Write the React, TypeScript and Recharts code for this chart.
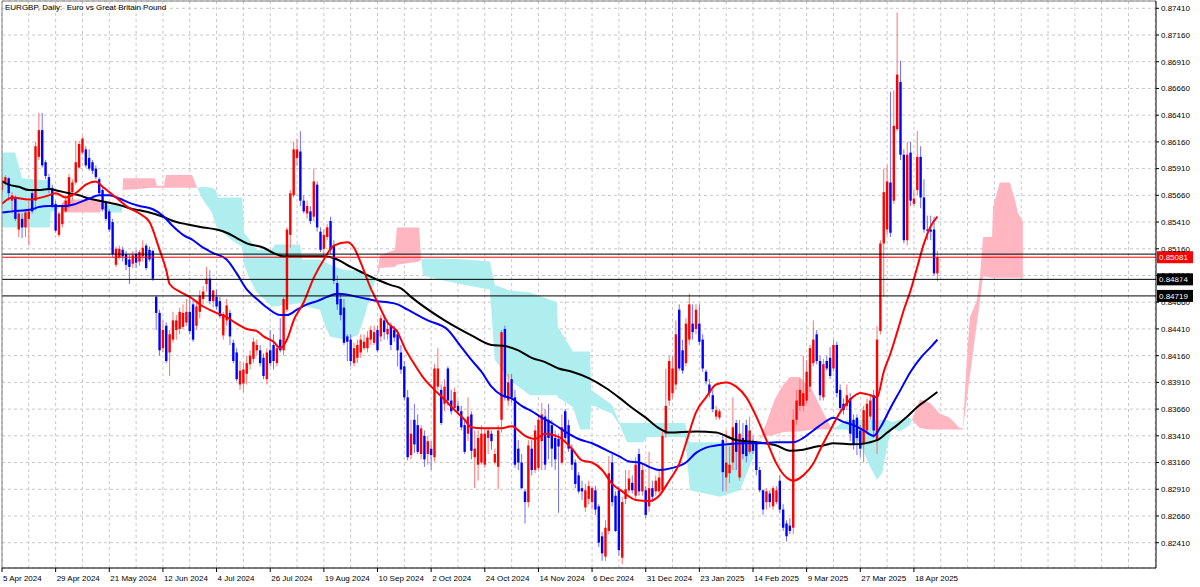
import React from "react";
import { ComposedChart, Bar, Line, Area, XAxis, YAxis, CartesianGrid, ReferenceLine } from "recharts";

const FONT = "'Liberation Sans', Arial, sans-serif";
const W = 1200;
const H = 587;
const Y_MIN = 0.821733;
const Y_MAX = 0.874783;
const X_MAX = 344.2;
const P = 10000; // all prices below are written in units of 0.0001

// daily candles [open, high, low, close]
const barsAprMay = [
  [8571,8583,8569,8580],[8578,8585,8575,8583],[8582,8583,8561,8568],[8561,8569,8549,8566],[8564,8566,8542,8544],
  [8534,8551,8527,8549],[8544,8549,8526,8536],[8536,8552,8527,8550],[8544,8561,8519,8551],[8568,8571,8549,8551],
  [8561,8616,8552,8612],[8602,8643,8599,8627],[8627,8643,8592,8594],[8597,8599,8581,8584],[8583,8586,8568,8571],
  [8573,8576,8554,8556],[8558,8561,8531,8533],[8529,8551,8527,8549],[8539,8559,8536,8556],[8551,8566,8550,8561],
  [8556,8586,8554,8583],[8569,8581,8561,8578],[8578,8617,8576,8597],[8592,8617,8591,8614],[8606,8621,8604,8619],
  [8609,8612,8592,8594],[8601,8609,8589,8591],[8597,8599,8586,8589],[8591,8594,8581,8583],[8581,8583,8566,8568],
  [8571,8573,8551,8553],[8559,8561,8542,8544],[8551,8553,8532,8534],[8541,8544,8508,8511],[8501,8518,8499,8516],
  [8508,8519,8506,8516],[8515,8518,8504,8509],[8511,8514,8496,8501],[8506,8511,8483,8499],[8502,8514,8498,8510],
];
const barsJunJul = [
  [8511,8515,8498,8503],[8504,8515,8500,8513],[8509,8524,8504,8517],[8519,8521,8496,8498],[8515,8518,8504,8506],
  [8514,8515,8486,8488],[8471,8472,8440,8456],[8456,8459,8416,8421],[8423,8449,8419,8440],[8444,8447,8409,8411],
  [8419,8440,8397,8436],[8431,8457,8428,8449],[8440,8454,8431,8449],[8441,8461,8436,8457],[8443,8464,8441,8456],
  [8447,8469,8444,8457],[8457,8471,8436,8439],[8464,8469,8429,8431],[8444,8466,8440,8462],[8457,8477,8451,8472],
  [8469,8481,8464,8476],[8483,8499,8476,8488],[8488,8496,8464,8467],[8467,8478,8461,8477],[8471,8478,8459,8462],
  [8467,8471,8451,8453],[8435,8457,8431,8455],[8449,8469,8444,8463],[8456,8459,8426,8434],[8428,8431,8409,8411],
  [8419,8423,8392,8394],[8389,8411,8384,8402],[8390,8409,8382,8403],[8399,8416,8389,8409],[8408,8421,8403,8416],
  [8413,8433,8409,8429],[8421,8431,8416,8426],[8421,8426,8406,8409],[8414,8418,8394,8397],[8394,8423,8389,8419],
];
const barsJulSep = [
  [8421,8440,8406,8409],[8426,8436,8403,8411],[8409,8426,8406,8423],[8431,8451,8419,8421],[8421,8471,8416,8469],
  [8459,8536,8457,8534],[8529,8571,8517,8568],[8566,8616,8564,8609],[8601,8619,8594,8609],[8607,8626,8556,8561],
  [8561,8566,8549,8551],[8549,8561,8544,8556],[8551,8556,8539,8542],[8546,8591,8542,8579],[8576,8579,8532,8536],
  [8532,8536,8513,8515],[8516,8534,8511,8529],[8527,8539,8524,8536],[8542,8546,8511,8515],[8519,8524,8483,8486],
  [8484,8491,8459,8464],[8469,8474,8449,8454],[8461,8469,8426,8428],[8434,8436,8411,8429],[8431,8436,8406,8411],
  [8409,8428,8406,8423],[8414,8431,8409,8426],[8419,8436,8414,8431],[8423,8436,8421,8429],[8423,8439,8419,8433],
  [8431,8444,8426,8440],[8428,8444,8426,8438],[8440,8444,8419,8421],[8434,8454,8429,8451],[8449,8454,8431,8438],
  [8436,8449,8431,8441],[8444,8447,8421,8426],[8440,8444,8429,8433],[8436,8440,8406,8421],[8419,8426,8399,8403],
];
const barsOctNov = [
  [8406,8411,8374,8377],[8377,8384,8318,8321],[8323,8356,8319,8343],[8356,8371,8325,8333],[8351,8361,8324,8326],
  [8324,8351,8319,8348],[8341,8346,8312,8319],[8324,8341,8314,8336],[8329,8336,8309,8323],[8321,8408,8317,8404],
  [8387,8423,8384,8404],[8384,8389,8351,8353],[8371,8394,8364,8387],[8404,8406,8369,8374],[8374,8384,8361,8364],
  [8367,8386,8364,8382],[8369,8374,8361,8364],[8364,8369,8346,8349],[8351,8356,8324,8326],[8343,8377,8336,8359],
  [8361,8364,8319,8327],[8321,8346,8292,8329],[8314,8346,8299,8339],[8316,8351,8314,8343],[8314,8348,8311,8343],
  [8339,8349,8324,8346],[8343,8346,8328,8336],[8316,8329,8314,8324],[8312,8351,8291,8346],[8356,8440,8344,8438],
  [8441,8444,8374,8377],[8374,8399,8369,8391],[8394,8399,8372,8377],[8377,8384,8311,8314],[8329,8337,8309,8316],
  [8316,8324,8291,8292],[8289,8291,8259,8279],[8279,8337,8274,8332],[8329,8337,8304,8309],[8309,8351,8306,8346],
];
const barsDecJan = [
  [8311,8361,8309,8356],[8336,8372,8309,8361],[8359,8366,8309,8314],[8356,8371,8319,8339],[8351,8356,8312,8329],
  [8339,8346,8309,8319],[8338,8343,8269,8331],[8316,8361,8314,8349],[8364,8366,8336,8339],[8351,8356,8326,8329],
  [8329,8333,8309,8314],[8316,8319,8292,8296],[8304,8307,8287,8289],[8292,8299,8281,8289],[8274,8296,8270,8290],
  [8282,8299,8277,8294],[8279,8294,8272,8292],[8290,8294,8267,8272],[8275,8277,8237,8241],[8247,8251,8224,8231],
  [8228,8262,8224,8255],[8252,8322,8249,8306],[8316,8324,8275,8279],[8285,8289,8251,8252],[8290,8294,8229,8234],
  [8227,8284,8221,8279],[8282,8309,8277,8291],[8290,8309,8287,8301],[8297,8304,8287,8290],[8285,8321,8282,8314],
  [8324,8329,8285,8289],[8289,8314,8285,8309],[8290,8294,8264,8267],[8275,8326,8270,8292],[8292,8299,8279,8284],
  [8289,8304,8285,8299],[8289,8309,8287,8302],[8290,8346,8289,8341],[8343,8404,8339,8369],[8374,8416,8369,8411],
];
const barsFebMar = [
  [8381,8416,8376,8404],[8389,8449,8384,8436],[8459,8464,8402,8404],[8421,8431,8399,8402],[8409,8451,8406,8446],
  [8431,8474,8426,8464],[8446,8464,8431,8438],[8441,8464,8436,8459],[8446,8464,8426,8429],[8431,8436,8401,8404],
  [8401,8403,8389,8392],[8389,8394,8377,8381],[8379,8384,8363,8366],[8359,8369,8356,8365],[8358,8366,8356,8364],
  [8337,8341,8289,8307],[8302,8346,8289,8316],[8306,8331,8297,8314],[8316,8377,8309,8349],[8353,8356,8309,8326],
  [8302,8356,8299,8343],[8339,8353,8319,8324],[8351,8356,8316,8322],[8326,8359,8324,8346],[8336,8341,8324,8327],
  [8334,8336,8304,8309],[8309,8312,8288,8290],[8290,8291,8267,8272],[8279,8292,8272,8289],[8287,8290,8274,8279],
  [8275,8294,8272,8292],[8279,8294,8277,8290],[8299,8304,8269,8272],[8272,8277,8252,8255],[8259,8262,8242,8247],
  [8257,8264,8249,8252],[8255,8366,8249,8356],[8356,8384,8351,8374],[8369,8394,8364,8384],[8369,8416,8364,8381],
];
const barsMarApr = [
  [8374,8412,8371,8401],[8387,8426,8382,8423],[8409,8449,8406,8431],[8436,8440,8408,8411],[8411,8416,8374,8379],
  [8377,8413,8374,8408],[8411,8416,8402,8404],[8414,8424,8394,8397],[8404,8431,8401,8426],[8426,8429,8377,8381],
  [8384,8389,8364,8367],[8371,8376,8361,8365],[8369,8389,8365,8379],[8376,8381,8336,8343],[8356,8361,8328,8333],
  [8358,8361,8323,8339],[8346,8351,8321,8329],[8333,8369,8316,8365],[8346,8376,8343,8371],[8359,8379,8356,8374],
  [8379,8384,8339,8346],[8337,8444,8324,8431],[8439,8524,8436,8521],[8521,8591,8471,8569],[8534,8594,8529,8579],
  [8578,8663,8527,8531],[8561,8664,8558,8631],[8628,8737,8626,8679],[8672,8692,8599,8604],[8604,8609,8521,8524],
  [8524,8616,8519,8604],[8606,8616,8556,8561],[8558,8571,8556,8563],[8571,8626,8566,8602],[8602,8612,8554,8564],
  [8564,8581,8531,8534],[8534,8547,8524,8533],[8534,8547,8524,8532],[8534,8546,8491,8493],[8493,8514,8486,8508],
];

// moving averages [bar index, value]
const fastMa = [
  [0,8558],[3,8564],[8,8562],[14,8566],[16,8568],[19,8564],[22,8568],[25,8576],[28,8579],[30,8574],[34,8564],[38,8554],
  [41,8549],[44,8541],[47,8515],[49,8496],[50,8483],[53,8476],[56,8471],[60,8462],[64,8456],[67,8452],[70,8446],[73,8441],
  [76,8439],[78,8434],[81,8429],[83,8423],[85,8431],[87,8449],[90,8466],[93,8489],[96,8506],[99,8519],[103,8522],[105,8517],
  [107,8503],[110,8479],[112,8466],[115,8447],[118,8438],[120,8424],[123,8408],[126,8394],[129,8384],[132,8375],[135,8365],
  [138,8356],[140,8349],[143,8348],[149,8348],[152,8350],[156,8341],[159,8338],[162,8343],[166,8340],[170,8329],[173,8318],
  [176,8316],[179,8309],[182,8296],[185,8289],[189,8281],[193,8280],[196,8285],[199,8299],[202,8315],[204,8334],[207,8363],
  [210,8377],[213,8389],[216,8391],[219,8387],[222,8377],[225,8359],[228,8337],[231,8315],[234,8302],[236,8299],[239,8304],
  [242,8315],[244,8328],[247,8346],[250,8363],[253,8375],[256,8381],[259,8379],[261,8377],[263,8401],[265,8418],[267,8438],
  [269,8459],[271,8477],[273,8499],[275,8521],[277,8537],[279,8546],
];
const midMa = [
  [0,8550],[3,8551],[9,8553],[11,8555],[14,8556],[19,8556],[22,8558],[26,8563],[29,8566],[32,8566],[35,8563],[38,8559],
  [41,8556],[45,8553],[48,8547],[51,8537],[54,8529],[57,8524],[60,8517],[63,8512],[67,8506],[70,8493],[73,8478],[76,8469],
  [79,8461],[83,8454],[85,8454],[88,8459],[91,8464],[94,8467],[97,8471],[100,8474],[103,8473],[106,8471],[109,8469],
  [112,8467],[115,8466],[118,8464],[121,8459],[127,8449],[133,8440],[137,8424],[140,8412],[143,8401],[146,8387],[149,8379],
  [152,8376],[155,8369],[158,8364],[161,8358],[164,8353],[169,8343],[172,8338],[176,8334],[180,8328],[184,8322],[187,8317],
  [190,8316],[193,8312],[196,8309],[200,8311],[204,8316],[207,8325],[210,8330],[213,8332],[216,8333],[221,8334],[226,8334],
  [231,8335],[236,8335],[239,8339],[242,8346],[245,8353],[248,8358],[251,8354],[254,8351],[257,8346],[260,8341],[262,8349],
  [265,8367],[268,8384],[271,8401],[274,8414],[277,8424],[279,8431],
];
const slowMa = [
  [0,8579],[2,8576],[5,8574],[8,8571],[11,8571],[14,8572],[17,8570],[20,8568],[23,8566],[26,8563],[29,8561],[32,8559],
  [35,8557],[38,8554],[41,8552],[44,8550],[48,8546],[52,8541],[55,8539],[60,8536],[64,8534],[67,8531],[70,8526],[73,8521],
  [78,8517],[81,8512],[84,8509],[90,8509],[96,8509],[100,8506],[104,8499],[108,8493],[112,8487],[116,8482],[119,8479],
  [122,8471],[132,8449],[140,8435],[146,8426],[150,8425],[154,8421],[158,8414],[162,8410],[166,8404],[170,8401],[175,8395],
  [180,8386],[184,8377],[188,8367],[192,8358],[196,8348],[199,8344],[207,8345],[213,8344],[219,8337],[225,8335],[231,8332],
  [235,8327],[239,8328],[243,8331],[245,8332],[248,8334],[254,8333],[261,8337],[264,8344],[267,8351],[270,8359],[273,8368],
  [276,8375],[279,8382],
];

// Ichimoku cloud [bar index, senkou A, senkou B]
const senkou = [
  [0,8606,8536],[3.9,8606,8536],[6,8582,8536],[14.3,8580,8536],[14.6,8557,8550],[17.6,8555,8555],[18.5,8550,8562],
  [29.2,8550,8562],[30.1,8554,8554],[31,8557,8550],[35.8,8557,8550],[35.9,8562,8562],[36.1,8571,8582],[45.6,8573,8582],
  [46.2,8573,8575],[48.3,8573,8575],[48.9,8573,8585],[56.7,8573,8585],[58.2,8573,8573],[59.9,8574,8562],[62.6,8573,8550],
  [63.8,8571,8538],[64.4,8564,8535],[68.6,8564,8524],[71.6,8564,8518],[72.2,8531,8501],[74,8524,8487],[75.8,8515,8476],
  [80.5,8515,8462],[81.4,8520,8462],[88.9,8520,8465],[89.5,8506,8463],[94.8,8506,8459],[96.3,8504,8445],[97.8,8501,8434],
  [102.3,8496,8431],[106.2,8496,8435],[108.3,8492,8454],[110.3,8490,8478],[111.8,8489,8489],[112.7,8498,8510],
  [117.2,8499,8515],[117.8,8501,8536],[124.4,8504,8536],[125,8506,8506],[125.6,8507,8491],[130.6,8507,8487],
  [138.1,8506,8482],[145.5,8504,8478],[147,8482,8412],[151.5,8477,8393],[157.5,8475,8379],[165.5,8466,8379],
  [165.8,8443,8377],[170.3,8420,8368],[172.4,8420,8347],[175.4,8420,8347],[175.7,8384,8370],[181.9,8370,8362],
  [184.3,8353,8351],[186.4,8353,8335],[191.2,8353,8335],[192.4,8353,8340],[203.7,8353,8340],[205.2,8335,8290],
  [214.1,8335,8284],[220.1,8335,8290],[223.7,8335,8318],[225.5,8337,8337],[226.7,8340,8342],[230.5,8342,8375],
  [232.6,8344,8387],[235,8345,8396],[238,8345,8396],[241.6,8347,8384],[244.6,8347,8365],[247.6,8347,8347],[252,8356,8347],
  [255.9,8356,8334],[258.9,8356,8312],[261,8356,8300],[262.5,8356,8306],[264,8356,8331],[265.4,8354,8348],[267.8,8356,8345],
  [270.8,8358,8351],[271.4,8356,8356],[273.8,8348,8375],[276.8,8347,8372],[279.7,8347,8362],[282.7,8347,8358],
  [285.7,8347,8348],[286.6,8347,8348],[287.8,8376,8415],[288.7,8397,8452],[290.8,8447,8468],[291.7,8468,8490],
  [292.6,8490,8527],[295.3,8489,8527],[295.6,8489,8555],[297.6,8489,8578],[300.6,8489,8578],[302.1,8489,8562],
  [303,8489,8550],[304.5,8489,8541],
];

const priceTicks = [
  0.8241, 0.8266, 0.8291, 0.8316, 0.8341, 0.8366, 0.8391, 0.8416, 0.8441, 0.8466, 0.8491,
  0.8516, 0.8541, 0.8566, 0.8591, 0.8616, 0.8641, 0.8666, 0.8691, 0.8716, 0.8741,
];
const dateLabels = [
  "5 Apr 2024", "29 Apr 2024", "21 May 2024", "12 Jun 2024", "4 Jul 2024", "26 Jul 2024", "19 Aug 2024",
  "10 Sep 2024", "2 Oct 2024", "24 Oct 2024", "14 Nov 2024", "6 Dec 2024", "31 Dec 2024", "23 Jan 2025",
  "14 Feb 2025", "9 Mar 2025", "27 Mar 2025", "18 Apr 2025",
];
const LABEL_STEP = 16;
const GRID_STEP = 8;

const priceLevels = [
  { value: 0.8511, color: "#000000", tag: "" },
  { value: 0.85081, color: "#ff0000", tag: "0.85081" },
  { value: 0.84874, color: "#000000", tag: "0.84874" },
  { value: 0.84719, color: "#000000", tag: "0.84719" },
];

const candles = [...barsAprMay, ...barsJunJul, ...barsJulSep, ...barsOctNov, ...barsDecJan, ...barsFebMar, ...barsMarApr].map(
  ([o, h, l, c], i) => ({ i, o: o / P, h: h / P, l: l / P, c: c / P, hl: [l / P, h / P] })
);
const toLine = (arr: number[][]) => arr.map(([i, v]) => ({ i, v: v / P }));
const fastRows = toLine(fastMa);
const midRows = toLine(midMa);
const slowRows = toLine(slowMa);
const cloudRows = senkou.map(([i, a, b]) => ({
  i,
  bull: a >= b ? [b / P, a / P] : null,
  bear: b >= a ? [a / P, b / P] : null,
}));
const xTicks: number[] = [];
for (let t = 0; t <= X_MAX; t += GRID_STEP) xTicks.push(t);

const Candle = (props: any) => {
  const { x, y, width, height, payload } = props;
  if (!payload || x == null || y == null) return null;
  const { o, h, l, c } = payload;
  const top = Math.min(y, y + height);
  const hh = Math.abs(height);
  const k = h - l > 0 ? hh / (h - l) : 0;
  const py = (v: number) => top + (h - v) * k;
  const cx = x + width / 2;
  const up = c >= o;
  const bt = py(Math.max(o, c));
  const bb = py(Math.min(o, c));
  return (
    <g>
      <line x1={cx} x2={cx} y1={top} y2={top + hh} stroke={up ? "#ff7070" : "#7070ff"} strokeWidth={1} />
      <rect x={cx - 1.2} y={bt} width={2.4} height={Math.max(1, bb - bt)} fill={up ? "#ff0000" : "#0000ff"} />
    </g>
  );
};

const XTick = (props: any) => {
  const { x, payload } = props;
  const v = payload.value;
  if (v % LABEL_STEP !== 0) return null;
  const label = dateLabels[v / LABEL_STEP];
  if (!label) return null;
  const y0 = H - 19;
  return (
    <g>
      <line x1={x} x2={x} y1={y0} y2={y0 + 4} stroke="#000" />
      <text x={x + 1} y={y0 + 13} fontSize={8} fontFamily={FONT} fill="#000">
        {label}
      </text>
    </g>
  );
};

const tagLabel = (text: string, bg: string) => (p: any) => {
  const vb = p.viewBox || {};
  if (!text) return null;
  const x0 = (vb.x || 0) + (vb.width || 0) + 1;
  const y0 = vb.y || 0;
  return (
    <g>
      <rect x={x0} y={y0 - 6} width={36} height={12} fill={bg} />
      <text x={x0 + 2} y={y0 + 3} fontSize={8} fontFamily={FONT} fill="#ffffff">
        {text}
      </text>
    </g>
  );
};

export default function App() {
  return (
    <div style={{ position: "relative", width: W, height: H, background: "#fff" }}>
      <style>{`body{margin:0;background:#fff;}`}</style>
      <ComposedChart width={W} height={H} data={candles} margin={{ top: 1, left: 2, right: 0, bottom: 0 }}>
        <CartesianGrid stroke="#c8c8c8" strokeDasharray="3 3" verticalValues={xTicks} />
        <XAxis
          type="number"
          dataKey="i"
          domain={[0, X_MAX]}
          allowDataOverflow
          ticks={xTicks}
          interval={0}
          tick={<XTick />}
          tickLine={false}
          axisLine={{ stroke: "#000" }}
          height={19}
        />
        <YAxis
          orientation="right"
          type="number"
          domain={[Y_MIN, Y_MAX]}
          allowDataOverflow
          ticks={priceTicks}
          interval={0}
          width={44}
          tickSize={3}
          tickMargin={2}
          tickFormatter={(v: number) => v.toFixed(5)}
          tick={{ fontSize: 8, fill: "#000", fontFamily: FONT }}
          tickLine={{ stroke: "#000" }}
          axisLine={{ stroke: "#000" }}
        />
        <Area data={cloudRows} dataKey="bull" type="linear" stroke="none" fill="#afeeee" fillOpacity={1} isAnimationActive={false} connectNulls={false} />
        <Area data={cloudRows} dataKey="bear" type="linear" stroke="none" fill="#ffb6c1" fillOpacity={1} isAnimationActive={false} connectNulls={false} />
        <Bar dataKey="hl" barSize={3} shape={<Candle />} isAnimationActive={false} />
        <Line data={slowRows} dataKey="v" type="monotone" stroke="#000000" strokeWidth={2} dot={false} isAnimationActive={false} />
        <Line data={midRows} dataKey="v" type="monotone" stroke="#0000ff" strokeWidth={2} dot={false} isAnimationActive={false} />
        <Line data={fastRows} dataKey="v" type="monotone" stroke="#ff0000" strokeWidth={2} dot={false} isAnimationActive={false} />
        {priceLevels.map((lv) => (
          <ReferenceLine key={lv.value} y={lv.value} stroke={lv.color} strokeWidth={1} label={tagLabel(lv.tag, lv.color)} />
        ))}
        <ReferenceLine x={0} stroke="#808080" />
        <ReferenceLine y={Y_MAX} stroke="#808080" />
      </ComposedChart>
      <div
        style={{
          position: "absolute",
          left: 5,
          top: 3,
          fontSize: 8,
          fontFamily: FONT,
          whiteSpace: "pre",
          color: "#000",
          lineHeight: "10px",
        }}
      >
        {"EURGBP, Daily:  Euro vs Great Britain Pound"}
      </div>
    </div>
  );
}
